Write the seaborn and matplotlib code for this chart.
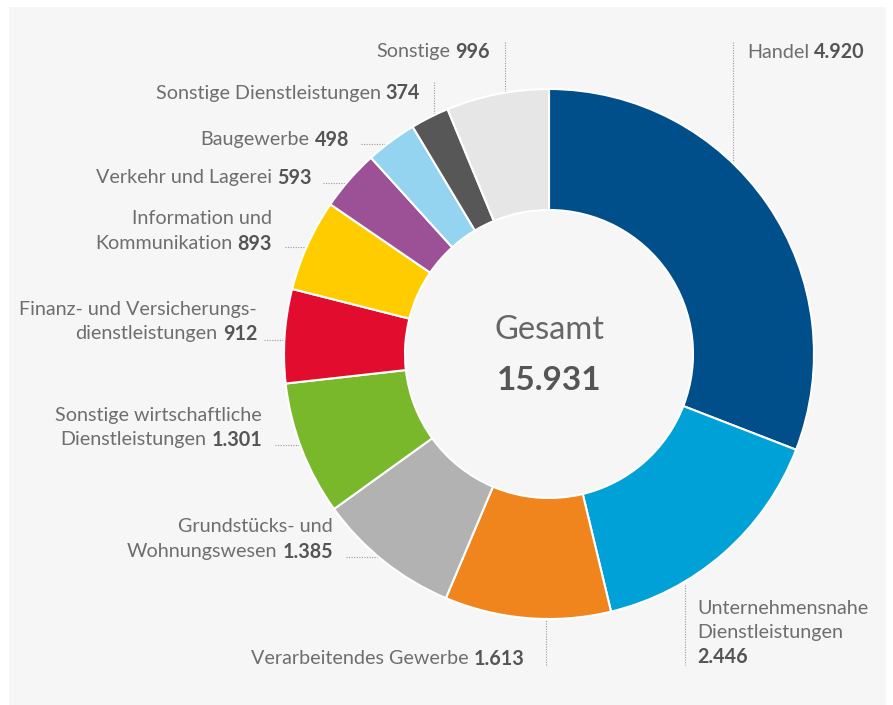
import matplotlib
matplotlib.use("Agg")
import matplotlib.pyplot as plt
import seaborn as sns
from matplotlib.patches import Rectangle

# -------------------------------------------------------------------------------------------------------------------
# data (clockwise from 12 o'clock)
categories = ['Handel', 'Unternehmensnahe Dienstleistungen', 'Verarbeitendes Gewerbe',
              'Grundstücks- und Wohnungswesen', 'Sonstige wirtschaftliche Dienstleistungen',
              'Finanz- und Versicherungsdienstleistungen', 'Information und Kommunikation',
              'Verkehr und Lagerei', 'Baugewerbe', 'Sonstige Dienstleistungen', 'Sonstige']
values = [4920, 2446, 1613, 1385, 1301, 912, 893, 593, 498, 374, 996]
value_labels = ['4.920', '2.446', '1.613', '1.385', '1.301', '912', '893', '593', '498', '374', '996']
label_lines = [['Handel'], ['Unternehmensnahe', 'Dienstleistungen', ''], ['Verarbeitendes Gewerbe'],
               ['Grundstücks- und', 'Wohnungswesen'], ['Sonstige wirtschaftliche', 'Dienstleistungen'],
               ['Finanz- und Versicherungs-', 'dienstleistungen'], ['Information und', 'Kommunikation'],
               ['Verkehr und Lagerei'], ['Baugewerbe'], ['Sonstige Dienstleistungen'], ['Sonstige']]
total_label = '15.931'
colors = ['#004f8a', '#00a1d7', '#f0851d', '#b2b2b2', '#78b82a', '#e20d2e',
          '#ffcc00', '#9c5096', '#95d4f0', '#575757', '#e6e6e6']

# -------------------------------------------------------------------------------------------------------------------
# layout (pixel coordinates of the 893x705 canvas)
# text anchor x, y of first line, alignment, leader line (x0, y0, x1, y1)
layout = [
    (747, 52, 'left', (733, 42, 733, 175)),
    (697, 608, 'left', (685, 585, 685, 665)),
    (524, 659, 'right', (546, 600, 546, 665)),
    (333, 527, 'right', (346, 557, 385, 557)),
    (262, 415, 'right', (275, 445, 315, 445)),
    (257, 309, 'right', (264, 340, 300, 340)),
    (272, 219, 'right', (285, 247, 320, 247)),
    (312, 178, 'right', (323, 183, 360, 183)),
    (349, 140, 'right', (361, 144, 400, 144)),
    (420, 93, 'right', (434, 82, 434, 125)),
    (490, 52, 'right', (505, 42, 505, 100)),
]
center = (549, 354)
outer_r = 265
ring_w = 121
line_gap = 24.5

# -------------------------------------------------------------------------------------------------------------------
sns.set_theme(style="white")
plt.rcParams['font.family'] = ['Lato', 'DejaVu Sans']
name_color = '#6e6e6e'
num_color = '#555555'

fig = plt.figure(figsize=(8.93, 7.05), dpi=100)
fig.patch.set_facecolor('white')
ax = fig.add_axes([0, 0, 1, 1])
ax.set_facecolor('none')

ax.add_patch(Rectangle((9, 7), 877, 700, facecolor='#f6f6f6', edgecolor='none', zorder=0))

# leader lines under the ring
for (tx, ty, ha, (x0, y0, x1, y1)) in layout:
    ax.plot([x0, x1], [y0, y1], color='#9a9a9a', lw=0.8, linestyle=(0, (1, 1.3)), zorder=1)

# ring (y axis is inverted, so counterclock=True turns clockwise on screen)
ax.pie(values, colors=sns.color_palette(colors), startangle=-90, counterclock=True,
       center=center, radius=outer_r, frame=True,
       wedgeprops=dict(width=ring_w, edgecolor='white', linewidth=1.5, zorder=2))

ax.set_xlim(0, 893)
ax.set_ylim(705, 0)
ax.set_aspect('equal')
ax.axis('off')

# centre text
ax.text(center[0], 330, 'Gesamt', ha='center', va='center', fontsize=23.5, color='#666666')
ax.text(center[0], 380, total_label, ha='center', va='center', fontsize=24, fontweight='bold', color=num_color)

# labels: name in regular, value in bold
renderer = fig.canvas.get_renderer()
fs = 14.2
for lines, val, (tx, ty, ha, _) in zip(label_lines, value_labels, layout):
    for i, line in enumerate(lines):
        y = ty + i * line_gap
        if i < len(lines) - 1:
            ax.text(tx, y, line, ha=ha, va='center', fontsize=fs, color=name_color)
            continue
        if ha == 'right':
            t = ax.text(tx, y, val, ha='right', va='center', fontsize=fs, fontweight='bold', color=num_color)
            w = t.get_window_extent(renderer).width
            if line:
                ax.text(tx - w - 5, y, line, ha='right', va='center', fontsize=fs, color=name_color)
        else:
            if line:
                t = ax.text(tx, y, line, ha='left', va='center', fontsize=fs, color=name_color)
                w = t.get_window_extent(renderer).width + 5
            else:
                w = 0
            ax.text(tx + w, y, val, ha='left', va='center', fontsize=fs, fontweight='bold', color=num_color)

plt.savefig('out.png', dpi=100, facecolor='white')
